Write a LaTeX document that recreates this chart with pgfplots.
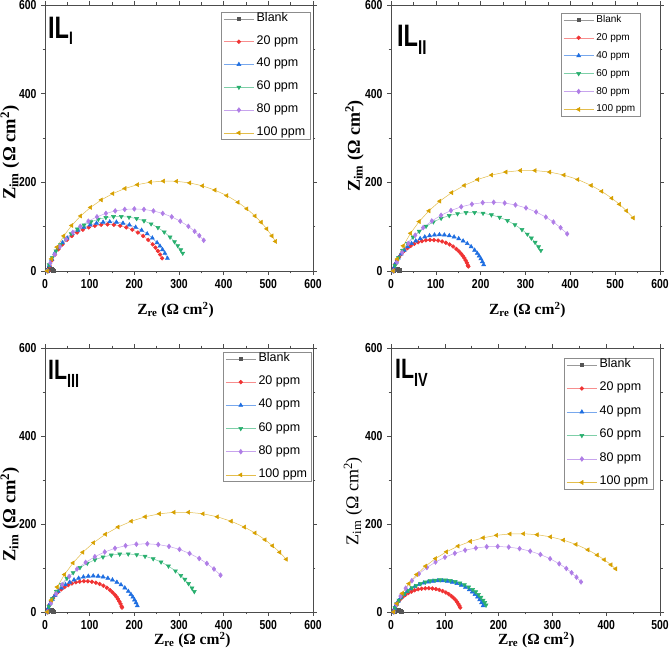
\documentclass[border=0pt]{standalone}
\usepackage{pgfplots}
\pgfplotsset{compat=1.18}
\usepackage{pgfplotstable}
\usepackage{fontspec}
\setmainfont{Liberation Sans}
\newfontfamily\tnr{Liberation Serif}
\newfontfamily\condb[FakeStretch=0.8]{Liberation Sans Bold}
\newfontfamily\condl[FakeStretch=0.76]{Liberation Sans Bold}

\definecolor{cBlank}{RGB}{85,85,85}
\definecolor{c20}{RGB}{240,50,50}
\definecolor{c40}{RGB}{30,110,225}
\definecolor{c60}{RGB}{40,175,110}
\definecolor{c80}{RGB}{175,125,230}
\definecolor{c100}{RGB}{215,160,0}

\pgfplotstableread{
x y
5 0
6 1.5
7.5 2.8
9.5 3.8
12 4.3
14.5 4
16.5 3.2
18 2
19 0.8
}\Blank

% ---------- IL_I ----------
\pgfplotstableread{
x y
7.6 0
10.6 11.0
15.8 24.3
22.2 37
30.0 48.9
38.9 60.0
49.0 70.1
60.1 79.0
72 86.8
84.7 93.2
98 98.3
111.7 102.0
125.8 104.3
140 105
154.2 104.3
168.3 102.0
182 98.3
195.3 93.2
208 86.8
219.9 79.0
231 70.1
241.1 60.0
247.2 52.7
252.7 45.1
257.8 37
262.2 28.6
}\PaA
\pgfplotstableread{
x y
6.0 0
9.5 12.5
14.8 26.5
21.6 39.8
29.7 52.3
39.1 63.8
49.7 74.4
61.2 83.8
73.8 91.9
87 98.7
101 104
115.4 107.9
130.1 110.2
145 111
159.9 110.2
174.6 107.9
189 104
203 98.7
216.3 91.9
228.8 83.8
240.3 74.4
250.9 63.8
257.3 56.2
263.1 48.2
268.4 39.8
274.1 28.7
}\PaB
\pgfplotstableread{
x y
5 0
9.4 14.0
16.2 30.0
24.6 45.2
34.5 59.4
45.9 72.4
58.6 84.2
72.4 94.7
87.3 103.6
103 110.9
119.4 116.6
136.3 120.5
153.4 122.6
170.8 122.9
188.1 121.4
205.1 118.1
221.6 113.0
237.6 106.2
252.8 97.8
267 87.9
280 76.5
290 66.0
297.2 57.1
303.9 47.6
308.4 40.2
}\PaC
\pgfplotstableread{
x y
5 0
12 17.9
21.8 37.1
33.5 55.2
47.1 71.9
62.3 87.1
79 100.7
97.1 112.4
116.3 122.2
136.4 129.9
157.2 135.5
178.5 138.9
200 140
221.5 138.9
242.8 135.5
263.6 129.9
283.7 122.2
302.9 112.4
321 100.7
335 89.5
345.5 79.7
355.3 69.2
}\PaD
\pgfplotstableread{
x y
5 0
14.4 27.2
26.8 53.9
42 79.1
59.7 102.6
79.7 124.1
101.9 143.4
126 160.3
151.8 174.6
178.9 186.1
207 194.7
235.9 200.3
265.2 202.8
294.6 202.3
323.8 198.7
352.5 192.1
380.3 182.5
407 170.1
432.2 154.9
451.9 140.3
470.3 124.1
483.9 110
496.5 95
508 79.1
516 66.7
}\PaE

% ---------- IL_II and IL_III ----------
\pgfplotstableread{
x y
5 0
6.8 7.3
9.7 15.8
13.5 24.1
18.2 31.8
23.7 39.1
29.8 45.7
36.7 51.6
44.1 56.8
52.0 61.2
60.4 64.8
69.1 67.4
77.9 69.2
87.0 70.0
96.0 69.8
105.0 68.7
113.9 66.6
122.4 63.7
130.7 59.9
138.4 55.2
145.7 49.7
151.2 44.6
156.3 39.1
160.1 34.3
163.4 29.3
166.5 24.1
169.1 18.6
171.4 13.0
172.4 10.2
}\PbA
\pgfplotstableread{
x y
5 0
7.5 9.0
11.4 19.3
16.5 29.2
22.5 38.4
29.5 47.0
37.3 54.8
45.9 61.8
55.2 67.8
65.0 72.9
75.3 76.8
86.0 79.7
97.0 81.4
108 82
119 81.4
130 79.7
140.7 76.8
151 72.9
160.9 67.8
170.1 61.8
178.7 54.8
186.5 47.0
192.4 39.9
196.6 33.9
200.4 27.5
203.8 21.0
206.7 14.2
}\PbB
\pgfplotstableread{
x y
5 0
9 12.2
16.4 29.8
25.7 46.4
36.6 62.1
49.1 76.4
63 89.4
78.2 100.9
94.6 110.7
111.8 118.8
129.8 125
148.4 129.2
167.3 131.6
186.4 131.9
205.3 130.2
224 126.6
242.2 121
259.8 113.6
276.4 104.3
292.1 93.4
304.1 83.1
313.1 74.1
321.4 64.5
329.1 54.4
334.3 46.4
}\PbC
\pgfplotstableread{
x y
5.1 0
13.3 20.1
24.8 41.7
38.4 62
54.1 80.7
71.7 97.7
91 112.8
111.7 125.7
133.7 136.4
156.7 144.8
180.4 150.7
204.6 154.1
229.1 155
253.5 153.3
277.6 149
301.1 142.3
323.7 133.1
345.3 121.6
362.3 110.4
378.3 97.7
393 83.7
}\PbD
\pgfplotstableread{
x y
5.1 0
14 27
27.3 56.8
43.6 85.1
62.8 111.5
84.6 135.7
108.8 157.5
135.2 176.7
163.5 193
193.3 206.3
224.3 216.4
256.2 223.2
288.7 226.6
321.3 226.6
353.8 223.2
385.7 216.4
416.7 206.3
446.5 193
470.2 179.6
492.6 164.2
509.5 150.5
525.4 135.7
540.2 119.8
}\PbE

% ---------- IL_IV ----------
\pgfplotstableread{
x y
5 0
6.1 5.7
8.1 12.1
10.7 18.2
13.9 24.0
17.8 29.5
22.1 34.5
27.0 39.1
32.4 43.1
38.1 46.5
44.1 49.4
50.4 51.5
56.9 53.0
63.6 53.8
70.2 54.0
76.9 53.4
83.4 52.1
89.8 50.2
95.9 47.5
101.8 44.3
107.3 40.5
112.3 36.1
116.1 32.1
119.6 27.7
122.6 23.1
125.3 18.2
127.1 14.1
128.6 10.0
}\PdA
\pgfplotstableread{
x y
5 0
6.9 8.4
9.9 17
13.7 25.2
18.4 32.9
23.8 40.1
30 46.7
36.8 52.7
44.2 57.9
52.1 62.3
60.5 65.8
69.1 68.4
78 70.2
87 71
96 70.8
105 69.7
113.8 67.7
122.4 64.7
130.6 60.9
138.3 56.2
145.5 50.8
151.1 45.7
156.2 40.1
160.8 34.2
164.8 27.8
168.3 21.1
171.2 14.2
}\PdB
\pgfplotstableread{
x y
5 0
7.4 9.7
10.6 18.5
14.7 26.9
19.7 34.8
25.5 42.2
32 49
39.1 55
46.9 60.2
55.2 64.6
63.9 68.1
72.9 70.7
82.1 72.3
91.4 73
100.8 72.7
110.1 71.4
119.2 69.1
128 65.9
136.4 61.8
144.3 56.8
151.7 51
157.4 45.7
162.6 39.8
167.2 33.5
171.3 26.9
174.1 21.3
176.6 15.6
}\PdC
\pgfplotstableread{
x y
5 0
10.1 17.1
17.7 36.1
27.3 54.1
38.8 71.1
51.9 86.8
66.7 101
82.8 113.6
100.2 124.5
118.6 133.4
137.8 140.5
157.7 145.4
177.9 148.3
198.4 149
218.8 147.5
239 144
258.7 138.3
277.7 130.7
295.7 121.1
312.7 109.6
325.9 98.8
335.7 89.3
344.8 79.1
353.2 68.4
}\PdD
\pgfplotstableread{
x y
5 0
11.1 19.1
20.9 42.4
33.2 64.5
47.7 85.2
64.3 104.3
82.8 121.5
103 136.7
124.6 149.7
147.5 160.4
171.4 168.7
196.1 174.3
221.1 177.4
246.4 177.9
271.6 175.7
296.4 170.8
320.6 163.4
343.9 153.6
366 141.3
383.3 129.4
396.4 118.8
408.8 107.3
417.5 98.1
}\PdE

\pgfplotsset{
  sBlank/.style={color=cBlank!60, line width=0.5pt, mark=square*, mark size=1.7pt, mark options={solid, draw=cBlank, fill=cBlank}},
  s20/.style={color=c20!55, line width=0.5pt, mark=*, mark size=1.9pt, mark options={solid, draw=c20, fill=c20}},
  s40/.style={color=c40!60, line width=0.5pt, mark=triangle*, mark size=2.3pt, mark options={solid, draw=c40, fill=c40}},
  s60/.style={color=c60!60, line width=0.5pt, mark=triangle*, mark size=2.3pt, mark options={solid, rotate=180, draw=c60, fill=c60}},
  s80/.style={color=c80!70, line width=0.5pt, mark=diamond*, mark size=2.4pt, mark options={solid, draw=c80, fill=c80}},
  s100/.style={color=c100!70, line width=0.5pt, mark=triangle*, mark size=2.3pt, mark options={solid, rotate=90, draw=c100, fill=c100}},
  panel/.style={
    scale only axis,
    xmin=0, xmax=600, ymin=0, ymax=600,
    xtick={0,100,...,600}, ytick={0,200,400,600},
    minor xtick={50,150,...,550}, minor ytick={100,300,500},
    tick align=outside,
    major tick length=4pt, minor tick length=2.5pt,
    axis line style={black!70, line width=0.6pt},
    every tick/.style={black!70, line width=0.6pt},
    tick label style={font=\condb\fontsize{13}{13}\selectfont},
    /pgf/number format/assume math mode=true,
    xticklabel style={yshift=-1pt},
    yticklabel style={xshift=-1pt},
    legend cell align=left,
    legend image code/.code={\draw[##1, mark repeat=2, mark phase=2] plot coordinates {(0pt,0pt) (15pt,0pt) (30pt,0pt)};},
    legend style={draw=black!45, line width=0.5pt, anchor=north east, inner xsep=2pt, inner ysep=2pt,
      nodes={inner xsep=2.5pt, inner ysep=0pt, text height=0.72em, text depth=0.22em}},
    ylabel style={anchor=center},
    xlabel style={anchor=center},
  },
}

\newcommand{\xlab}[1]{{\tnr\bfseries\fontsize{#1}{#1}\selectfont Z\textsubscript{re} (Ω cm\textsuperscript{2})}}
\newcommand{\ylab}[1]{{\tnr\bfseries\fontsize{#1}{#1}\selectfont Z\textsubscript{im} (Ω cm\textsuperscript{2})}}
\newcommand{\ylabn}[1]{{\tnr\fontsize{#1}{#1}\selectfont Z\textsubscript{im} (Ω cm\textsuperscript{2})}}
% panel label: #1 main size, #2 subscript size, #3 drop, #4 subscript text
\newcommand{\plab}[4]{{\condl\fontsize{#1}{#1}\selectfont IL\raisebox{-#3}{\fontsize{#2}{#2}\selectfont #4}}}

\begin{document}
\begin{tikzpicture}
\useasboundingbox (0pt,0pt) rectangle (669pt,652pt);

% ---------------- IL_I ----------------
\begin{axis}[panel, at={(45pt,381pt)}, anchor=south west, width=268pt, height=266pt,
  xlabel={\xlab{15.5}}, ylabel={\ylab{18.5}},
  xlabel style={at={(axis description cs:0.487,0)}, yshift=-39pt},
  ylabel style={at={(axis description cs:-0.131,0.444)}},
  legend style={at={(axis description cs:0.989,0.974)}, font=\fontsize{12.5}{13}\selectfont, row sep=13.4pt}]
\addplot[sBlank] table {\Blank}; \addlegendentry{Blank}
\addplot[s20] table {\PaA}; \addlegendentry{20 ppm}
\addplot[s40] table {\PaB}; \addlegendentry{40 ppm}
\addplot[s60] table {\PaC}; \addlegendentry{60 ppm}
\addplot[s80] table {\PaD}; \addlegendentry{80 ppm}
\addplot[s100] table {\PaE}; \addlegendentry{100 ppm}
\node[anchor=north west, inner sep=0pt] at (rel axis cs:0.011,0.955) {\plab{31}{18}{6pt}{I}};
\end{axis}

% ---------------- IL_II ----------------
\begin{axis}[panel, at={(391pt,381pt)}, anchor=south west, width=269pt, height=266pt,
  xlabel={\xlab{15.5}}, ylabel={\ylab{18}},
  xlabel style={at={(axis description cs:0.507,0)}, yshift=-39pt},
  ylabel style={at={(axis description cs:-0.136,0.47)}},
  legend style={at={(axis description cs:0.926,0.97)}, font=\fontsize{10}{11}\selectfont, row sep=8.5pt}]
\addplot[sBlank] table {\Blank}; \addlegendentry{Blank}
\addplot[s20] table {\PbA}; \addlegendentry{20 ppm}
\addplot[s40] table {\PbB}; \addlegendentry{40 ppm}
\addplot[s60] table {\PbC}; \addlegendentry{60 ppm}
\addplot[s80] table {\PbD}; \addlegendentry{80 ppm}
\addplot[s100] table {\PbE}; \addlegendentry{100 ppm}
\node[anchor=north west, inner sep=0pt] at (rel axis cs:0.022,0.925) {\plab{31}{20}{8pt}{II}};
\end{axis}

% ---------------- IL_III ----------------
\begin{axis}[panel, at={(45pt,40pt)}, anchor=south west, width=268pt, height=264pt,
  xlabel={\xlab{15.5}}, ylabel={\ylab{18.5}},
  xlabel style={at={(axis description cs:0.55,0)}, yshift=-28pt},
  ylabel style={at={(axis description cs:-0.131,0.37)}},
  legend style={at={(axis description cs:0.996,0.985)}, font=\fontsize{12.5}{13}\selectfont, row sep=13.8pt}]
\addplot[sBlank] table {\Blank}; \addlegendentry{Blank}
\addplot[s20] table {\PbA}; \addlegendentry{20 ppm}
\addplot[s40] table {\PbB}; \addlegendentry{40 ppm}
\addplot[s60] table {\PbC}; \addlegendentry{60 ppm}
\addplot[s80] table {\PbD}; \addlegendentry{80 ppm}
\addplot[s100] table {\PbE}; \addlegendentry{100 ppm}
\node[anchor=north west, inner sep=0pt] at (rel axis cs:0.011,0.955) {\plab{28}{19}{8pt}{III}};
\end{axis}

% ---------------- IL_IV ----------------
\begin{axis}[panel, at={(391pt,40pt)}, anchor=south west, width=269pt, height=264pt,
  xmax=500, xtick={0,100,...,500}, minor xtick={50,150,...,450},
  xlabel={\xlab{15.5}}, ylabel={\ylabn{18}},
  xlabel style={at={(axis description cs:0.54,0)}, yshift=-28pt},
  ylabel style={at={(axis description cs:-0.141,0.42)}},
  legend style={at={(axis description cs:0.974,0.962)}, font=\fontsize{12.5}{13}\selectfont, row sep=14.1pt}]
\addplot[sBlank] table {\Blank}; \addlegendentry{Blank}
\addplot[s20] table {\PdA}; \addlegendentry{20 ppm}
\addplot[s40] table {\PdB}; \addlegendentry{40 ppm}
\addplot[s60] table {\PdC}; \addlegendentry{60 ppm}
\addplot[s80] table {\PdD}; \addlegendentry{80 ppm}
\addplot[s100] table {\PdE}; \addlegendentry{100 ppm}
\node[anchor=north west, inner sep=0pt] at (rel axis cs:0.015,0.958) {\plab{28}{19}{8pt}{IV}};
\end{axis}
\end{tikzpicture}
\end{document}
